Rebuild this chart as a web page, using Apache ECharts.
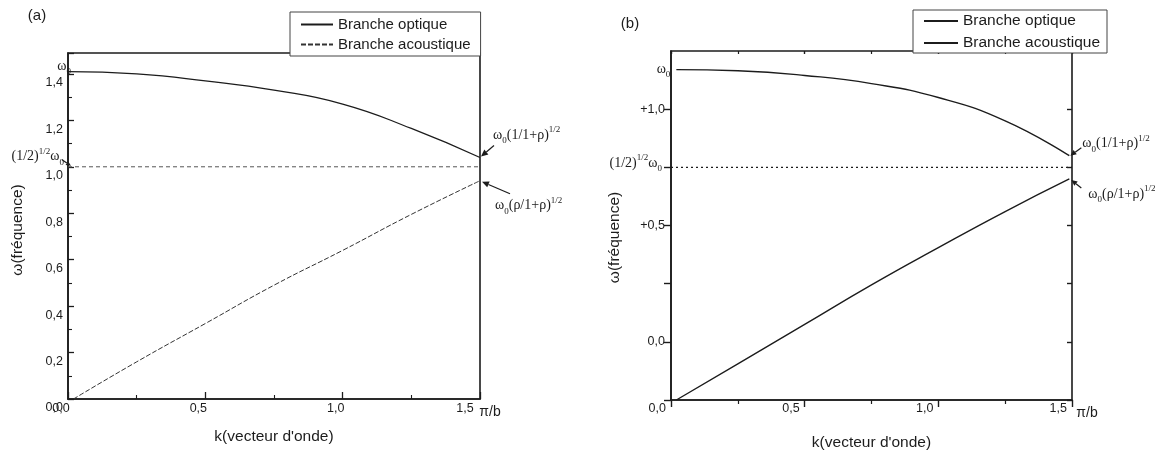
<!DOCTYPE html>
<html>
<head>
<meta charset="utf-8">
<script src="https://cdn.jsdelivr.net/npm/echarts@6/dist/echarts.min.js"></script>
<style>
  html, body { margin: 0; padding: 0; background: #fff; }
  #main { width: 1159px; height: 456px; }
</style>
</head>
<body>
<div id="main"></div>
<script>
// ---- panel (a): dispersion branches, k in units of π/b ----
const kOpticA = [0.0, 0.25, 0.5, 0.75, 1.0, 1.25, 1.5];
const opticA = [1.41, 1.40, 1.37, 1.33, 1.27, 1.165, 1.04];
const kAcousticA = [0.02, 0.25, 0.5, 0.75, 1.0, 1.25, 1.5];
const acousticA = [0.0, 0.16, 0.325, 0.49, 0.64, 0.795, 0.94];
const levelA = 1.0;          // (1/2)^1/2 ω0

// ---- panel (b) ----
const kB = [0.02, 0.25, 0.5, 0.75, 1.0, 1.25, 1.49];
const opticB = [1.17, 1.165, 1.145, 1.11, 1.05, 0.95, 0.80];
const acousticB = [-0.25, -0.095, 0.075, 0.245, 0.405, 0.56, 0.70];
const levelB = 0.75;         // (1/2)^1/2 ω0

// ---- tick labels ----
const xTicks = [0, 0.5, 1.0, 1.5];
const xTickLabels = ['0,0', '0,5', '1,0', '1,5'];
const yTicksA = [0, 0.2, 0.4, 0.6, 0.8, 1.0, 1.2, 1.4];
const yTickLabelsA = ['0,0', '0,2', '0,4', '0,6', '0,8', '1,0', '1,2', '1,4'];
const yTicksB = [0, 0.5, 1.0];
const yTickLabelsB = ['0,0', '+0,5', '+1,0'];

const SANS = 'Liberation Sans, Arial, sans-serif';
const SERIF = 'Liberation Serif, Times New Roman, serif';
const INK = '#1c1c1c';

function zip(xs, ys) { return xs.map((x, i) => [x, ys[i]]); }
function lookup(ticks, labels) {
  return function (v) {
    const i = ticks.findIndex(t => Math.abs(t - v) < 1e-6);
    return i < 0 ? '' : labels[i];
  };
}
const labelA = lookup(xTicks, xTickLabels);

const axisLineStyle = { color: INK, width: 1.6 };
const tickText = { fontFamily: SANS, fontSize: 12.5, color: INK };

const option = {
  backgroundColor: '#fff',
  animation: false,
  grid: [
    { left: 68, top: 53, width: 412, height: 346, show: true, borderColor: INK, borderWidth: 1.6, backgroundColor: 'transparent' },
    { left: 671, top: 51, width: 401, height: 349, show: true, borderColor: INK, borderWidth: 1.6, backgroundColor: 'transparent' }
  ],
  xAxis: [
    { // (a) bottom axis, ticks pointing inward
      type: 'value', gridIndex: 0, min: 0, max: 1.5, interval: 0.5,
      axisLine: { onZero: false, lineStyle: axisLineStyle },
      axisTick: { inside: true, length: 7, lineStyle: { color: INK, width: 1.3 } },
      minorTick: { show: true, splitNumber: 2, length: 4, lineStyle: { color: INK, width: 1.1 } },
      splitLine: { show: false },
      axisLabel: Object.assign({}, tickText, {
        margin: 3, padding: [0, 14, 0, 0],
        formatter: v => Math.abs(v - 1.5) < 1e-6 ? '{m|' + labelA(v) + '}' : labelA(v),
        rich: { m: Object.assign({}, tickText, { padding: [0, 16, 0, 0] }) }
      })
    },
    { // (b) bottom axis, outer half of the ticks + labels
      type: 'value', gridIndex: 1, min: 0, max: 1.5, interval: 0.5,
      axisLine: { onZero: false, lineStyle: axisLineStyle },
      axisTick: { inside: false, length: 7, lineStyle: { color: INK, width: 1.4 } },
      minorTick: { show: true, splitNumber: 2, length: 4, lineStyle: { color: INK, width: 1.2 } },
      splitLine: { show: false },
      axisLabel: Object.assign({}, tickText, {
        margin: 2, align: 'right', padding: [0, 5, 0, 0],
        formatter: lookup(xTicks, xTickLabels)
      })
    },
    { // (b) inner half of the ticks
      type: 'value', gridIndex: 1, min: 0, max: 1.5, interval: 0.5,
      axisLine: { show: false, onZero: false },
      axisTick: { inside: true, length: 3, lineStyle: { color: INK, width: 1.4 } },
      minorTick: { show: true, splitNumber: 2, length: 3, lineStyle: { color: INK, width: 1.2 } },
      splitLine: { show: false }, axisLabel: { show: false }
    }
  ],
  yAxis: [
    { // (a) ω axis; labels sit a little below their ticks
      type: 'value', gridIndex: 0, min: 0, max: 1.49, interval: 0.2,
      axisLine: { onZero: false, lineStyle: axisLineStyle },
      axisTick: { inside: true, length: 6, lineStyle: { color: INK, width: 1.3 } },
      minorTick: { show: true, splitNumber: 2, length: 4, lineStyle: { color: INK, width: 1.1 } },
      splitLine: { show: false },
      axisLabel: Object.assign({}, tickText, {
        margin: 5, showMaxLabel: false, verticalAlign: 'top', lineHeight: 18,
        formatter: lookup(yTicksA, yTickLabelsA)
      })
    },
    { // (b) ω axis, outer ticks + labels
      type: 'value', gridIndex: 1, min: -0.25, max: 1.25, interval: 0.25,
      axisLine: { onZero: false, lineStyle: axisLineStyle },
      axisTick: { inside: false, length: 7, lineStyle: { color: INK, width: 1.4 } },
      splitLine: { show: false },
      axisLabel: Object.assign({}, tickText, {
        margin: 6, showMaxLabel: false,
        formatter: lookup(yTicksB, yTickLabelsB)
      })
    },
    { // (b) inner ticks
      type: 'value', gridIndex: 1, min: -0.25, max: 1.25, interval: 0.25,
      axisLine: { show: false, onZero: false },
      axisTick: { inside: true, length: 5, lineStyle: { color: INK, width: 1.4 } },
      splitLine: { show: false }, axisLabel: { show: false }
    }
  ],
  legend: [
    {
      data: ['Branche optique', 'Branche acoustique'],
      orient: 'vertical', left: 290, top: 12,
      itemWidth: 32, itemHeight: 14, itemGap: 5,
      padding: [5, 10, 4, 10],
      borderColor: '#444', borderWidth: 1, backgroundColor: '#fff',
      itemStyle: { opacity: 0 },
      textStyle: { fontFamily: SANS, fontSize: 15, color: INK },
      selectedMode: false, z: 10
    },
    {
      data: ['Branche optique (b)', 'Branche acoustique (b)'],
      formatter: name => name.replace(' (b)', ''),
      orient: 'vertical', left: 913, top: 10,
      itemWidth: 34, itemHeight: 14, itemGap: 6,
      padding: [3, 7, 2, 10],
      borderColor: '#444', borderWidth: 1, backgroundColor: '#fff',
      itemStyle: { opacity: 0 },
      textStyle: { fontFamily: SANS, fontSize: 15.5, color: INK },
      selectedMode: false, z: 10
    }
  ],
  series: [
    {
      name: 'Branche optique', type: 'line', xAxisIndex: 0, yAxisIndex: 0,
      data: zip(kOpticA, opticA), smooth: true,
      symbol: 'none', itemStyle: { color: INK }, lineStyle: { color: INK, width: 1.3, type: 'solid' }
    },
    {
      name: 'Branche acoustique', type: 'line', xAxisIndex: 0, yAxisIndex: 0,
      data: zip(kAcousticA, acousticA), smooth: true,
      symbol: 'none', itemStyle: { color: '#333' }, lineStyle: { color: '#333', width: 1, type: [5, 2] }
    },
    {
      name: 'niveau (a)', type: 'line', xAxisIndex: 0, yAxisIndex: 0,
      data: [[0, levelA], [1.5, levelA]],
      symbol: 'none', lineStyle: { color: '#555', width: 1, type: [4, 3] }
    },
    {
      name: 'Branche optique (b)', type: 'line', xAxisIndex: 1, yAxisIndex: 1,
      data: zip(kB, opticB), smooth: true,
      symbol: 'none', itemStyle: { color: INK }, lineStyle: { color: INK, width: 1.4, type: 'solid' }
    },
    {
      name: 'Branche acoustique (b)', type: 'line', xAxisIndex: 1, yAxisIndex: 1,
      data: zip(kB, acousticB), smooth: true,
      symbol: 'none', itemStyle: { color: INK }, lineStyle: { color: INK, width: 1.4, type: 'solid' }
    },
    {
      name: 'niveau (b)', type: 'line', xAxisIndex: 1, yAxisIndex: 1,
      data: [[0, levelB], [1.5, levelB]],
      symbol: 'none', lineStyle: { color: INK, width: 1.2, type: [2, 3] }
    }
  ]
};

const chart = echarts.init(document.getElementById('main'), null, { renderer: 'canvas' });
chart.setOption(option);

// ---- annotations anchored on the data coordinates ----
const A = (x, y) => chart.convertToPixel({ gridIndex: 0 }, [x, y]);
const B = (x, y) => chart.convertToPixel({ gridIndex: 1 }, [x, y]);

const rich = {
  b: { fontFamily: SERIF, fontSize: 14, fill: INK, color: INK, lineHeight: 20 },
  sub: { fontFamily: SERIF, fontSize: 9, fill: INK, color: INK, verticalAlign: 'bottom' },
  sup: { fontFamily: SERIF, fontSize: 9, fill: INK, color: INK, verticalAlign: 'top' }
};
const OMEGA0 = '{b|ω}{sub|0}';
const TXT_OPT = OMEGA0 + '{b|(1/1+ρ)}{sup|1/2}';
const TXT_AC = OMEGA0 + '{b|(ρ/1+ρ)}{sup|1/2}';
const TXT_MID = '{b|(1/2)}{sup|1/2}' + OMEGA0;

function math(text, x, y, align) {
  return { type: 'text', x: x, y: y, z: 20,
    style: { text: text, rich: rich, align: align, verticalAlign: 'middle', fill: INK } };
}
function plain(text, x, y, size, align, rot) {
  return { type: 'text', x: x, y: y, z: 20, rotation: rot || 0,
    style: { text: text, font: size + 'px ' + SANS, fill: INK, align: align || 'center', verticalAlign: 'middle' } };
}
function arrow(from, to, head) {
  const dx = to[0] - from[0], dy = to[1] - from[1];
  const L = Math.hypot(dx, dy), ux = dx / L, uy = dy / L;
  const bx = to[0] - ux * head, by = to[1] - uy * head, w = head * 0.45;
  return [
    { type: 'line', z: 20, shape: { x1: from[0], y1: from[1], x2: bx, y2: by }, style: { stroke: INK, lineWidth: 1.2 } },
    { type: 'polygon', z: 20, shape: { points: [to, [bx - uy * w, by + ux * w], [bx + uy * w, by - ux * w]] }, style: { fill: INK } }
  ];
}

const g = [];
// panel labels
g.push(plain('(a)', 37, 16, 15));
g.push(plain('(b)', 630, 24, 15));

// panel (a)
{
  const o0 = A(0, 0), o1 = A(1.5, 1.49);
  g.push(plain('ω(fréquence)', o0[0] - 50.5, (o0[1] + o1[1]) / 2 + 4, 15.5, 'center', Math.PI / 2));
  g.push(plain('k(vecteur d\'onde)', (o0[0] + o1[0]) / 2, o0[1] + 38, 15.5));
  g.push(plain('π/b', A(1.5, 0)[0] + 10, o0[1] + 13, 14));
  const oe = A(kOpticA[kOpticA.length - 1], opticA[opticA.length - 1]);
  const ae = A(kAcousticA[kAcousticA.length - 1], acousticA[acousticA.length - 1]);
  g.push(math(TXT_OPT, oe[0] + 13, oe[1] - 22, 'left'));
  g.push(...arrow([oe[0] + 14, oe[1] - 12], [oe[0] + 1, oe[1] - 1], 7));
  g.push(math(TXT_AC, ae[0] + 15, ae[1] + 25, 'left'));
  g.push(...arrow([ae[0] + 30, ae[1] + 13], [ae[0] + 2, ae[1] + 1], 7));
  const m = A(0, levelA);
  g.push(math(TXT_MID, m[0] - 4, m[1] - 10, 'right'));
  g.push(...arrow([m[0] - 6, m[1] - 7], [m[0] + 3, m[1] - 1], 5));
  const s = A(kOpticA[0], opticA[0]);
  g.push(math(OMEGA0, s[0] + 3, s[1] - 5, 'right'));
}

// panel (b)
{
  const o0 = B(0, -0.25), o1 = B(1.5, 1.25);
  g.push(plain('ω(fréquence)', o0[0] - 56, (o0[1] + o1[1]) / 2 + 12, 15.5, 'center', Math.PI / 2));
  g.push(plain('k(vecteur d\'onde)', (o0[0] + o1[0]) / 2, o0[1] + 43, 15.5));
  g.push(plain('π/b', B(1.5, -0.25)[0] + 15, o0[1] + 13, 14));
  const oe = B(kB[kB.length - 1], opticB[opticB.length - 1]);
  const ae = B(kB[kB.length - 1], acousticB[acousticB.length - 1]);
  g.push(math(TXT_OPT, oe[0] + 13, oe[1] - 12, 'left'));
  g.push(...arrow([oe[0] + 12, oe[1] - 8], [oe[0] + 1, oe[1]], 6));
  g.push(math(TXT_AC, ae[0] + 19, ae[1] + 15, 'left'));
  g.push(...arrow([ae[0] + 12, ae[1] + 9], [ae[0] + 2, ae[1] + 1], 6));
  const m = B(0, levelB);
  g.push(math(TXT_MID, m[0] - 9, m[1] - 4, 'right'));
  const s = B(kB[0], opticB[0]);
  g.push(math(OMEGA0, s[0] - 6, s[1], 'right'));
}

chart.setOption({ graphic: g });
</script>
</body>
</html>
